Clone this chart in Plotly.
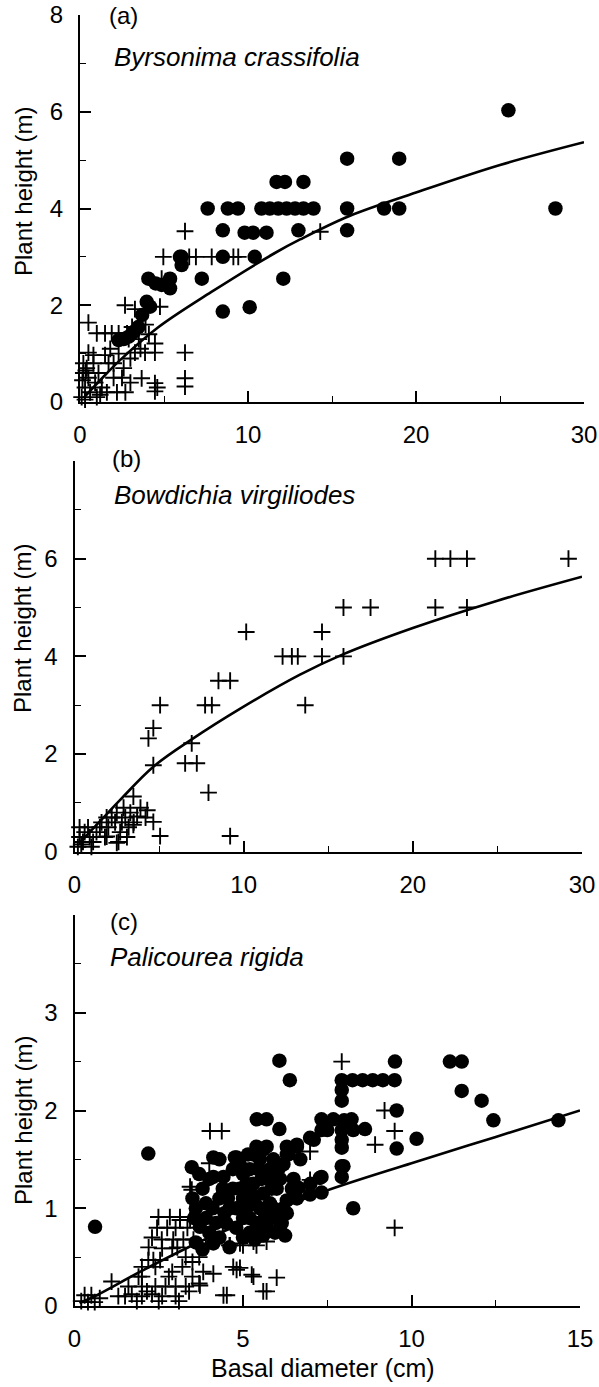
import plotly.graph_objects as go

# ---------------- Panel (a) Byrsonima crassifolia ----------------
a_dot_x = [2.3, 2.6, 2.9, 3.2, 3.47, 3.7, 3.97, 4.17, 4.07, 4.5, 4.86, 5.36, 5.36, 6.05, 6.05, 5.95,
           7.25, 7.6, 8.5, 8.5, 8.5, 8.8, 9.4, 9.8, 10.3, 10.1, 10.4, 11.1, 11.7, 12.2, 13.3,
           10.8, 11.3, 11.8, 12.3, 12.8, 13.3, 13.9, 13.0, 12.1, 15.9, 15.9, 15.9, 18.1, 19.0, 19.0,
           25.5, 28.3]
a_dot_y = [1.28, 1.3, 1.35, 1.45, 1.55, 1.8, 2.07, 1.97, 2.55, 2.45, 2.42, 2.35, 2.55, 3.0, 2.83, 3.0,
           2.55, 4.0, 3.55, 3.0, 1.87, 4.0, 4.0, 3.5, 3.5, 1.96, 3.0, 3.5, 4.55, 4.55, 4.55,
           4.0, 4.0, 4.0, 4.0, 4.0, 4.0, 4.0, 3.55, 2.55, 5.03, 4.0, 3.55, 4.0, 5.03, 4.0,
           6.03, 4.0]
a_crs_x = [6.25, 4.96, 6.5, 6.9, 7.84, 9.13, 9.42, 14.3, 4.86, 5.1, 2.68, 3.27, 4.76, 0.5, 1.0, 1.49,
           1.89, 2.3, 2.8, 3.1, 2.9, 4.46, 3.27, 3.87, 4.46, 6.25, 0.5, 0.8, 1.49, 0.2, 0.8, 1.7,
           2.0, 6.25, 6.25, 3.67, 4.46, 4.46, 1.6, 2.2, 2.7, 0.1, 0.3, 0.5, 0.2, 0.4, 0.6, 0.9,
           1.1, 1.3, 0.3, 1.0, 2.5, 2.3, 1.8, 3.0, 2.6, 3.5, 3.9, 4.1, 3.6, 4.6, 3.0, 2.0, 0.15,
           0.35, 1.2]
a_crs_y = [3.53, 3.0, 3.0, 3.0, 3.0, 3.0, 3.0, 3.52, 2.55, 2.5, 2.0, 1.92, 1.97, 1.64, 1.42, 1.42,
           1.42, 1.42, 1.42, 1.55, 1.3, 1.21, 1.02, 1.02, 1.02, 1.02, 1.02, 0.97, 0.97, 0.8, 0.8, 0.8,
           0.8, 0.49, 0.32, 0.49, 0.39, 0.22, 0.2, 0.2, 0.2, 0.1, 0.3, 0.5, 0.6, 0.7, 0.2, 0.4,
           0.6, 0.3, 0.05, 0.1, 0.5, 1.0, 1.1, 0.9, 0.7, 1.3, 1.6, 1.4, 1.1, 0.3, 0.4, 0.5, 0.45,
           0.65, 0.15]
a_fit_x = [0.2, 1.2, 2.4, 4.6, 7.8, 11.6, 13.1, 16.0, 20.0, 25.0, 30.0]
a_fit_y = [0.08, 0.45, 0.87, 1.53, 2.27, 3.08, 3.36, 3.84, 4.33, 4.9, 5.37]

# ---------------- Panel (b) Bowdichia virgiliodes ----------------
b_crs_x = [10.15, 12.3, 12.85, 13.2, 14.63, 15.9, 14.63, 15.9, 17.5, 21.33, 23.2, 21.33, 22.22, 23.2,
           29.2, 13.64, 8.51, 9.2, 5.06, 7.72, 8.12, 4.66, 4.37, 6.93, 4.66, 6.54, 7.23, 7.92, 5.06,
           9.2, 3.48, 3.9, 4.3, 4.66, 4.2, 0.2, 0.3, 0.3, 0.5, 0.6, 0.8, 0.9, 1.1, 1.3, 1.5, 1.6,
           1.8, 2.0, 2.2, 2.4, 2.5, 2.7, 2.8, 2.9, 3.0, 3.2, 3.3, 3.5, 3.7, 2.6, 1.0, 0.4, 1.9,
           3.1, 1.9, 2.5, 3.48]
b_crs_y = [4.5, 4.0, 4.0, 4.0, 4.0, 4.0, 4.5, 5.0, 5.0, 5.0, 5.0, 6.0, 6.0, 6.0,
           6.0, 3.0, 3.5, 3.5, 3.0, 3.0, 3.0, 2.53, 2.32, 2.22, 1.77, 1.81, 1.81, 1.21, 0.32,
           0.32, 1.13, 0.9, 0.85, 0.61, 0.7, 0.1, 0.3, 0.5, 0.2, 0.4, 0.5, 0.3, 0.2, 0.4, 0.5, 0.6,
           0.3, 0.5, 0.7, 0.6, 0.8, 0.4, 0.6, 0.9, 0.7, 0.5, 0.8, 0.6, 0.72, 0.2, 0.1, 0.15, 0.7,
           0.3, 0.31, 0.18, 0.55]
b_fit_x = [0.3, 1.5, 2.7, 4.66, 6.93, 9.8, 13.3, 15.8, 20.0, 25.0, 30.0]
b_fit_y = [0.18, 0.62, 1.06, 1.74, 2.3, 2.93, 3.62, 4.03, 4.58, 5.14, 5.63]

# ---------------- Panel (c) Palicourea rigida ----------------
c_dot_x = [0.61, 2.19, 6.08, 6.39, 5.41, 5.70, 6.08, 4.12, 4.81, 3.48, 5.4, 5.7, 6.3, 6.6, 6.35,
           9.51, 11.14, 11.49, 7.93, 8.25, 8.55, 8.85, 9.15, 9.5, 7.93, 7.93, 11.49, 12.08, 12.43,
           14.36, 9.56, 9.56, 10.15, 7.33, 7.68, 8.22, 8.62, 7.33, 7.93, 8.27, 6.99, 6.6, 6.3,
           7.93, 7.93, 7.93, 7.93, 7.28, 6.64, 6.99, 7.33, 6.3, 6.3, 6.1, 8.27, 7.98, 7.33,
           3.72, 4.12, 3.8, 3.5, 3.6, 3.8, 4.0, 4.12, 4.42, 4.3, 4.1, 3.9, 4.0, 4.3, 4.5, 4.8,
           4.9, 5.0, 5.0, 5.0, 5.2, 5.3, 5.35, 5.4, 5.5, 5.55, 5.6, 5.65, 5.7, 5.8, 5.85, 5.9,
           6.0, 6.1, 6.2, 6.5, 6.6, 4.7, 4.6, 5.2, 5.95, 5.6, 5.3, 4.76, 6.35, 6.7, 7.0, 3.6,
           4.3, 7.1, 7.5, 8.0,
           4.6, 4.7, 4.8, 4.9, 5.1, 5.1, 5.2, 5.25, 5.45, 5.5, 5.45, 5.75, 5.8, 5.75, 6.0, 6.05,
           6.2, 6.15, 4.4, 4.2, 3.7, 3.55, 3.9, 4.45, 5.0, 5.35, 5.6, 6.25, 4.55, 5.15, 5.9, 6.45]
c_dot_y = [0.81, 1.56, 2.51, 2.31, 1.91, 1.91, 1.81, 1.52, 1.52, 1.42, 1.63, 1.63, 1.63, 1.63, 1.55,
           2.5, 2.5, 2.5, 2.31, 2.31, 2.31, 2.31, 2.31, 2.31, 2.21, 2.1, 2.2, 2.1, 1.9,
           1.9, 2.0, 1.61, 1.71, 1.91, 1.91, 1.91, 1.81, 1.8, 1.8, 1.8, 1.72, 1.65, 1.55,
           1.7, 1.62, 1.43, 1.32, 1.31, 1.21, 1.14, 1.16, 1.08, 0.95, 0.81, 1.0, 1.43, 1.32,
           0.81, 0.64, 0.58, 1.1, 1.0, 1.2, 1.3, 1.32, 1.32, 1.1, 1.0, 0.9, 0.75, 0.7, 0.85, 1.0,
           1.2, 1.35, 1.1, 0.9, 1.4, 1.25, 1.05, 0.85, 1.5, 1.3, 1.15, 0.95, 0.8, 1.4, 1.2, 1.0,
           0.9, 1.3, 1.45, 1.3, 1.1, 1.4, 0.6, 0.75, 0.75, 1.6, 1.55, 1.52, 1.6, 1.5, 1.25, 0.65,
           1.5, 1.7, 1.8, 1.9,
           1.0, 1.2, 0.8, 1.45, 1.0, 1.25, 0.9, 1.15, 1.4, 1.0, 0.75, 1.3, 1.05, 0.88, 1.2, 1.4,
           1.0, 0.85, 1.2, 0.85, 1.35, 0.9, 1.05, 0.95, 0.7, 0.68, 0.72, 0.72, 1.1, 1.55, 1.5, 1.2]
c_crs_x = [7.93, 9.2, 9.5, 8.92, 9.5, 6.99, 6.99, 4.02, 4.37, 3.43, 4.0, 5.9, 3.48, 3.13, 3.43,
           2.49, 2.83, 3.13, 2.59, 2.93, 3.23, 3.53, 2.6, 2.9, 2.19, 2.34, 2.54, 2.0, 2.4, 2.9,
           1.1, 1.6, 2.0, 2.4, 2.7, 3.0, 3.3, 1.7, 2.0, 2.3, 2.6, 3.0, 0.3, 0.5, 0.75, 0.2, 0.4,
           0.6, 3.82, 4.12, 3.7, 4.42, 4.71, 4.81, 5.26, 5.6, 4.6, 5.0, 5.4, 4.4, 5.31, 6.0, 5.7,
           4.91, 4.52, 3.72, 4.61, 4.91, 5.31, 5.7, 3.0, 3.3, 3.5, 2.0, 1.5, 3.5,
           2.2, 2.45, 2.75, 3.05, 3.35, 3.6, 1.9, 2.15, 2.8, 3.2, 3.4, 1.3, 1.85, 2.5, 3.1, 3.7,
           2.3, 3.9]
c_crs_y = [2.5, 2.0, 1.79, 1.65, 0.8, 1.58, 1.29, 1.79, 1.79, 1.22, 1.46, 1.39, 1.19, 0.88, 0.88,
           0.91, 0.91, 0.91, 0.68, 0.68, 0.68, 0.68, 0.59, 0.59, 0.47, 0.47, 0.47, 0.4, 0.4, 0.35,
           0.25, 0.2, 0.2, 0.2, 0.2, 0.2, 0.2, 0.12, 0.1, 0.12, 0.1, 0.1, 0.11, 0.11, 0.08, 0.05, 0.04,
           0.04, 0.35, 0.33, 0.23, 0.11, 0.4, 0.37, 0.32, 0.15, 0.62, 0.62, 0.62, 0.85, 0.3, 0.29, 0.15,
           0.39, 0.11, 0.21, 0.62, 0.64, 0.66, 0.66, 0.8, 0.5, 0.45, 0.3, 0.1, 0.3,
           0.6, 0.8, 0.8, 0.6, 0.8, 0.9, 0.3, 0.15, 0.3, 0.4, 0.15, 0.1, 0.05, 0.05, 0.05, 0.5,
           0.7, 0.6]
c_fit_x = [0.15, 0.6, 2.0, 3.8, 5.1, 7.4, 10.0, 12.5, 15.0]
c_fit_y = [0.03, 0.1, 0.36, 0.67, 0.86, 1.17, 1.46, 1.73, 2.0]

W, H = 599, 1387
FONT = "Liberation Sans, Arial, sans-serif"

fig = go.Figure()


def add_panel(idx, dots, crosses, fit):
    xa = "x" if idx == 1 else f"x{idx}"
    ya = "y" if idx == 1 else f"y{idx}"
    if dots is not None:
        fig.add_trace(go.Scatter(x=dots[0], y=dots[1], mode="markers", xaxis=xa, yaxis=ya,
                                 marker=dict(symbol="circle", size=14.5, color="black"),
                                 cliponaxis=False, showlegend=False))
    fig.add_trace(go.Scatter(x=crosses[0], y=crosses[1], mode="markers", xaxis=xa, yaxis=ya,
                             marker=dict(symbol="cross-thin", size=12, color="black",
                                         line=dict(color="black", width=1.9)),
                             cliponaxis=False, showlegend=False))
    fig.add_trace(go.Scatter(x=fit[0], y=fit[1], mode="lines", xaxis=xa, yaxis=ya,
                             line=dict(color="black", width=2.6, shape="spline"),
                             cliponaxis=False, showlegend=False))


add_panel(1, (a_dot_x, a_dot_y), (a_crs_x, a_crs_y), (a_fit_x, a_fit_y))
add_panel(2, None, (b_crs_x, b_crs_y), (b_fit_x, b_fit_y))
add_panel(3, (c_dot_x, c_dot_y), (c_crs_x, c_crs_y), (c_fit_x, c_fit_y))


def px_x(p):
    return p / W


def px_y(p):
    return 1 - p / H


common = dict(showline=True, linecolor="black", linewidth=2, ticks="inside", ticklen=11,
              tickwidth=1.5, tickcolor="black", showgrid=False, zeroline=False, automargin=False,
              tickfont=dict(family=FONT, size=24, color="black"), fixedrange=True)

panels = [
    (80, 584, 402, 15, 30, 10, 8, 2, ["0", "2", "4", "6", "8"], 1.0),
    (74.5, 582, 851.7, 461, 30, 10, 8, 2, ["0", "2", "4", "6", ""], 1.0),
    (74.5, 580, 1306, 915, 15, 5, 4, 1, ["0", "1", "2", "3", ""], 0.5),
]

for i, (x0, x1, yb, yt, xmax, xdt, ymax, ydt, ytt, ymin) in enumerate(panels, start=1):
    xs = "xaxis" if i == 1 else f"xaxis{i}"
    ys = "yaxis" if i == 1 else f"yaxis{i}"
    yname = "y" if i == 1 else f"y{i}"
    xname = "x" if i == 1 else f"x{i}"
    fig.layout[xs] = dict(common, domain=[px_x(x0), px_x(x1)], range=[0, xmax], anchor=yname,
                          tickvals=list(range(0, xmax + 1, xdt)), ticklabelstandoff=10,
                          minor=dict(ticks="inside", ticklen=6, tickwidth=1.2, tickcolor="black",
                                     tick0=xdt / 2, dtick=xdt))
    fig.layout[ys] = dict(common, domain=[px_y(yb), px_y(yt)], range=[0, ymax], anchor=xname,
                          tickvals=[k * ydt for k in range(len(ytt))], ticktext=ytt,
                          ticklabelstandoff=10,
                          minor=dict(ticks="inside", ticklen=6, tickwidth=1.2, tickcolor="black",
                                     tick0=ymin, dtick=ydt))

ann = []
labels = [("(a)", 107, 15), ("(b)", 110, 458), ("(c)", 108, 921)]
for t, x, y in labels:
    ann.append(dict(text=t, x=px_x(x), y=px_y(y), xref="paper", yref="paper",
                    xanchor="left", yanchor="middle", showarrow=False,
                    font=dict(family=FONT, size=24, color="black")))
species = [("Byrsonima crassifolia", 112, 57), ("Bowdichia virgiliodes", 112, 495),
           ("Palicourea rigida", 108, 957)]
for t, x, y in species:
    ann.append(dict(text=f"<i>{t}</i>", x=px_x(x), y=px_y(y), xref="paper", yref="paper",
                    xanchor="left", yanchor="middle", showarrow=False,
                    font=dict(family=FONT, size=26, color="black")))
for y in (192, 629, 1121):
    ann.append(dict(text="Plant height (m)", x=px_x(23), y=px_y(y), xref="paper", yref="paper",
                    xanchor="center", yanchor="middle", textangle=-90, showarrow=False,
                    font=dict(family=FONT, size=24, color="black")))
ann.append(dict(text="Basal diameter (cm)", x=px_x(323), y=px_y(1368), xref="paper", yref="paper",
                xanchor="center", yanchor="middle", showarrow=False,
                font=dict(family=FONT, size=25, color="black")))

fig.update_layout(width=W, height=H, margin=dict(l=0, r=0, t=0, b=0, autoexpand=False),
                  paper_bgcolor="white", plot_bgcolor="white", annotations=ann)

fig.write_html("out.html", config={"displayModeBar": False},
               post_script="document.body.style.margin='0';document.body.style.padding='0';"
                           "document.documentElement.style.overflow='hidden';")
